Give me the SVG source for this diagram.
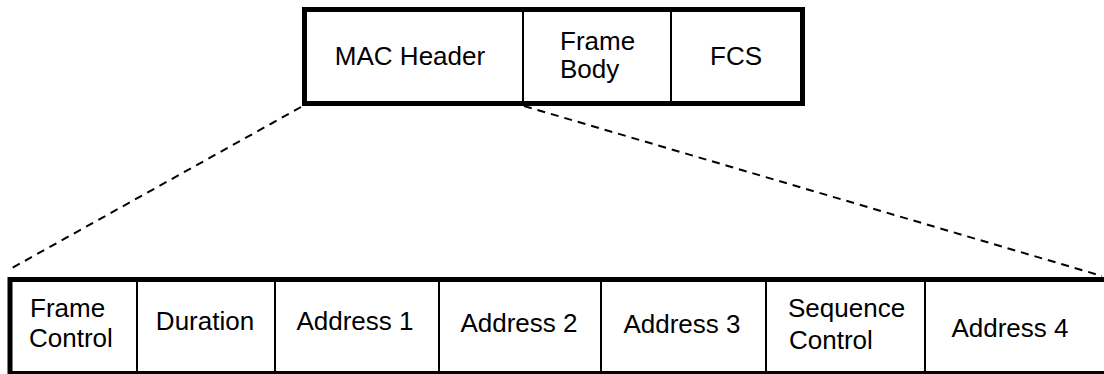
<svg xmlns="http://www.w3.org/2000/svg" width="1104" height="374" viewBox="0 0 1104 374">
  <style>
    .frame { fill: #fff; stroke: #000; stroke-width: 5; }
    .div { stroke: #000; stroke-width: 2; }
    .lbl { font-family: "Liberation Sans", Arial, sans-serif; font-size: 26px; fill: #000; }
    .mid { text-anchor: middle; }
    .dash { stroke: #000; stroke-width: 2; stroke-dasharray: 8 6; fill: none; }
  </style>
  <rect width="1104" height="374" fill="#fff"/>

  <!-- expansion lines from MAC Header to its fields -->
  <g id="connectors">
    <line class="dash" x1="301" y1="107" x2="12" y2="268"/>
    <line class="dash" x1="524" y1="106" x2="1102" y2="276"/>
  </g>

  <!-- 802.11 frame -->
  <g id="frame">
    <rect class="frame" x="304.5" y="9.5" width="498" height="94"/>
    <line class="div" x1="523" y1="9.5" x2="523" y2="103.5"/>
    <line class="div" x1="671" y1="9.5" x2="671" y2="103.5"/>
  </g>
  <g id="mac-header">
    <text class="lbl mid" x="410" y="65">MAC Header</text>
  </g>
  <g id="frame-body">
    <text class="lbl" x="560" y="50">Frame</text>
    <text class="lbl" x="560" y="78">Body</text>
  </g>
  <g id="fcs">
    <text class="lbl mid" x="736" y="65">FCS</text>
  </g>

  <!-- MAC header fields -->
  <g id="header-fields">
    <rect class="frame" x="10" y="279.5" width="1110" height="94"/>
    <line class="div" x1="137" y1="279.5" x2="137" y2="373"/>
    <line class="div" x1="275" y1="279.5" x2="275" y2="373"/>
    <line class="div" x1="439" y1="279.5" x2="439" y2="373"/>
    <line class="div" x1="601" y1="279.5" x2="601" y2="373"/>
    <line class="div" x1="766" y1="279.5" x2="766" y2="373"/>
    <line class="div" x1="925" y1="279.5" x2="925" y2="373"/>
  </g>
  <g id="frame-control">
    <text class="lbl" x="30" y="317">Frame</text>
    <text class="lbl" x="29" y="347">Control</text>
  </g>
  <g id="duration">
    <text class="lbl mid" x="205" y="330">Duration</text>
  </g>
  <g id="address-1">
    <text class="lbl mid" x="355" y="330">Address 1</text>
  </g>
  <g id="address-2">
    <text class="lbl mid" x="519" y="332">Address 2</text>
  </g>
  <g id="address-3">
    <text class="lbl mid" x="682" y="333">Address 3</text>
  </g>
  <g id="sequence-control">
    <text class="lbl" x="788" y="317">Sequence</text>
    <text class="lbl" x="789" y="349">Control</text>
  </g>
  <g id="address-4">
    <text class="lbl mid" x="1010" y="337">Address 4</text>
  </g>
</svg>
